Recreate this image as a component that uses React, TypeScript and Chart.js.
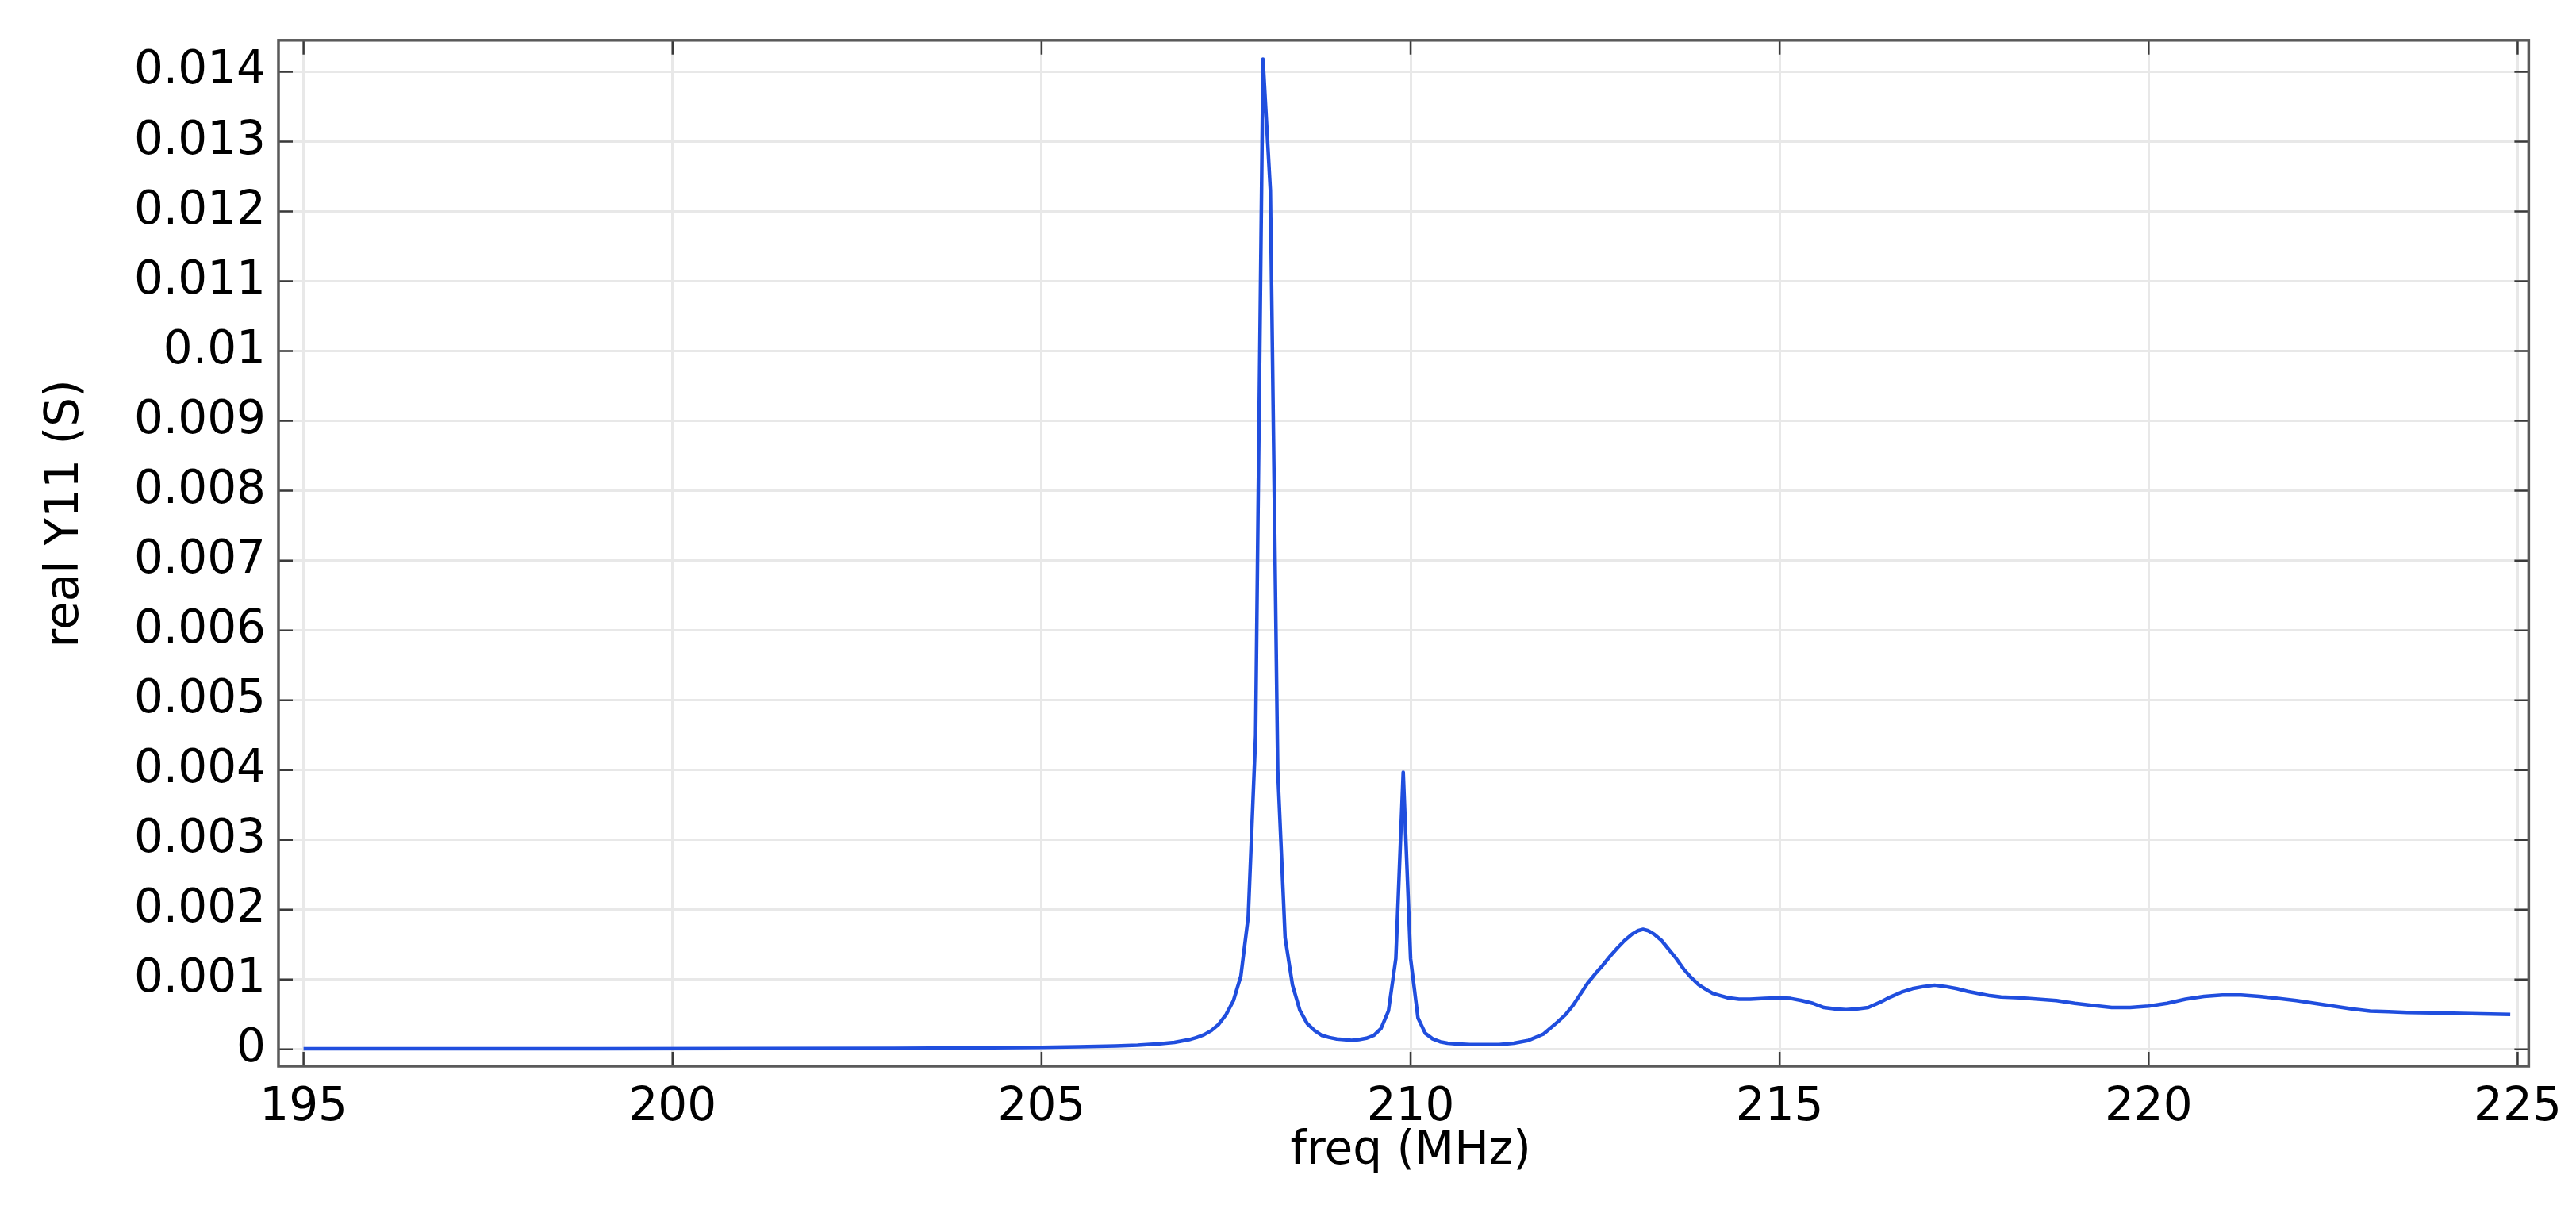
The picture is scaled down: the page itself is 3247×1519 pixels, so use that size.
import { useEffect, useRef } from "react"
import { Chart, registerables } from "chart.js"

Chart.register(...registerables)

// frequency sweep (MHz) and real part of Y11 (S)
const freq = [
  195, 197, 199, 201, 203, 204, 205, 205.5, 206, 206.3, 206.6, 206.8,
  207.0, 207.1, 207.2, 207.3, 207.4, 207.5, 207.6, 207.7, 207.8, 207.9,
  208.0, 208.1, 208.2, 208.3, 208.4, 208.5, 208.6, 208.7, 208.8, 208.9,
  209.0, 209.1, 209.2, 209.3, 209.4, 209.5, 209.6, 209.7, 209.8, 209.9,
  210.0, 210.1, 210.2, 210.3, 210.4, 210.5, 210.6, 210.8, 211.0, 211.2,
  211.4, 211.6, 211.8, 212.0, 212.1, 212.2, 212.3, 212.4, 212.5, 212.6,
  212.7, 212.8, 212.9, 213.0, 213.08, 213.15, 213.22, 213.3, 213.4, 213.5,
  213.6, 213.7, 213.8, 213.9, 214.0, 214.1, 214.2, 214.3, 214.45, 214.6,
  214.8, 215.0, 215.15, 215.3, 215.45, 215.6, 215.75, 215.9, 216.05, 216.2,
  216.35, 216.5, 216.65, 216.8, 216.95, 217.1, 217.25, 217.4, 217.55, 217.7,
  217.85, 218.0, 218.25, 218.5, 218.75, 219.0, 219.25, 219.5, 219.75, 220.0,
  220.25, 220.5, 220.75, 221.0, 221.25, 221.5, 221.75, 222.0, 222.25, 222.5,
  222.75, 223.0, 223.25, 223.5, 224.0, 224.5, 224.9,
]

const realY11 = [
  0.00001, 0.00001, 0.00001, 0.000012, 0.000016, 0.00002, 0.00003, 0.000037, 0.00005, 0.00006, 0.00008, 0.0001,
  0.00014, 0.00017, 0.00021, 0.00027, 0.00036, 0.0005, 0.0007, 0.00105, 0.0019, 0.0045,
  0.01418, 0.0123, 0.004, 0.0016, 0.00092, 0.00056, 0.00037, 0.00027, 0.0002, 0.00017,
  0.00015, 0.00014, 0.00013, 0.00014, 0.00016, 0.0002, 0.0003, 0.00055, 0.0013, 0.00397,
  0.0013, 0.00045, 0.00023, 0.00015, 0.00011, 0.00009, 0.00008, 0.00007, 0.00007, 0.00007,
  0.00009, 0.00013, 0.00022, 0.0004, 0.0005, 0.00063, 0.00079, 0.00095, 0.00108, 0.0012,
  0.00133, 0.00145, 0.00156, 0.00165, 0.0017, 0.00172, 0.0017, 0.00165, 0.00156, 0.00143,
  0.0013, 0.00115, 0.00103, 0.00093, 0.00086, 0.0008, 0.00077, 0.00074, 0.00072, 0.00072,
  0.00073, 0.00074, 0.00073, 0.0007, 0.00066, 0.0006, 0.00058, 0.00057, 0.00058, 0.0006,
  0.00067, 0.00075, 0.00082, 0.00087, 0.0009, 0.00092, 0.0009, 0.00087, 0.00083, 0.0008,
  0.00077, 0.00075, 0.00074, 0.00072, 0.0007, 0.00066, 0.00063, 0.0006, 0.0006, 0.00062,
  0.00066, 0.00072, 0.00076, 0.00078, 0.00078, 0.00076, 0.00073, 0.0007, 0.00066, 0.00062,
  0.00058, 0.00055, 0.00054, 0.00053, 0.00052, 0.00051, 0.0005,
]

const xTicks = [195, 200, 205, 210, 215, 220, 225]
const yTicks = [
  0, 0.001, 0.002, 0.003, 0.004, 0.005, 0.006, 0.007, 0.008, 0.009, 0.01,
  0.011, 0.012, 0.013, 0.014,
]

const FONT = "'DejaVu Sans', 'Noto Sans', sans-serif"
const TICK_LEN = 18

// box around the plot, inward ticks on all four sides, axis titles
const framePlugin = {
  id: "frame",
  afterDraw(chart: any) {
    const { ctx, chartArea: a, scales } = chart
    const xs = scales.x
    const ys = scales.y
    ctx.save()

    ctx.strokeStyle = "#3a3a3a"
    ctx.lineWidth = 2.5
    ctx.beginPath()
    xTicks.forEach((v) => {
      const px = xs.getPixelForValue(v)
      ctx.moveTo(px, a.top)
      ctx.lineTo(px, a.top + TICK_LEN)
      ctx.moveTo(px, a.bottom)
      ctx.lineTo(px, a.bottom - TICK_LEN)
    })
    yTicks.forEach((v) => {
      const py = ys.getPixelForValue(v)
      ctx.moveTo(a.left, py)
      ctx.lineTo(a.left + TICK_LEN, py)
      ctx.moveTo(a.right, py)
      ctx.lineTo(a.right - TICK_LEN, py)
    })
    ctx.stroke()

    ctx.strokeStyle = "#5a5a5a"
    ctx.lineWidth = 3.5
    ctx.strokeRect(a.left, a.top, a.right - a.left, a.bottom - a.top)

    ctx.fillStyle = "#000"
    ctx.font = `58px ${FONT}`
    ctx.textAlign = "center"
    ctx.textBaseline = "alphabetic"
    ctx.fillText("freq (MHz)", (a.left + a.right) / 2 + 9, a.bottom + 123)

    ctx.translate(a.left - 268, (a.top + a.bottom) / 2 - 50)
    ctx.rotate(-Math.PI / 2)
    ctx.textBaseline = "middle"
    ctx.fillText("real Y11 (S)", 0, 0)
    ctx.restore()
  },
}

export default function App() {
  const canvasRef = useRef<HTMLCanvasElement>(null)
  const chartRef = useRef<Chart | null>(null)

  useEffect(() => {
    if (!canvasRef.current) return
    if (chartRef.current) chartRef.current.destroy()
    const ctx = canvasRef.current.getContext("2d")
    if (!ctx) return

    chartRef.current = new Chart(ctx, {
      type: "line",
      data: {
        datasets: [
          {
            label: "real Y11 (S)",
            data: freq.map((f, i) => ({ x: f, y: realY11[i] })),
            borderColor: "rgb(32, 78, 222)",
            borderWidth: 4.5,
            borderJoinStyle: "round",
            pointRadius: 0,
            tension: 0,
            fill: false,
          },
        ],
      },
      options: {
        animation: false,
        responsive: true,
        maintainAspectRatio: false,
        layout: { padding: { top: 42, right: 44, left: 0, bottom: 0 } },
        plugins: {
          legend: { display: false },
          tooltip: { enabled: false },
        },
        scales: {
          x: {
            type: "linear",
            min: 194.66,
            max: 225.15,
            afterBuildTicks: (scale: any) => {
              scale.ticks = xTicks.map((v) => ({ value: v }))
            },
            afterFit: (scale: any) => {
              scale.height = 175
            },
            grid: { color: "#e8e8e8", lineWidth: 3, drawTicks: false },
            border: { display: false },
            ticks: {
              color: "#000",
              padding: 18,
              maxRotation: 0,
              font: { family: FONT, size: 58 },
              callback: (v: any) => String(v),
            },
          },
          y: {
            type: "linear",
            min: -0.00024,
            max: 0.01445,
            afterBuildTicks: (scale: any) => {
              scale.ticks = yTicks.map((v) => ({ value: v }))
            },
            afterFit: (scale: any) => {
              scale.width = 351
            },
            grid: { color: "#e8e8e8", lineWidth: 3, drawTicks: false },
            border: { display: false },
            ticks: {
              color: "#000",
              padding: 16,
              font: { family: FONT, size: 58 },
              callback: (v: any) => String(+Number(v).toFixed(6)),
            },
          },
        },
      },
      plugins: [framePlugin],
    })

    return () => {
      if (chartRef.current) {
        chartRef.current.destroy()
        chartRef.current = null
      }
    }
  }, [])

  return (
    <div style={{ position: "fixed", left: 0, top: 0, width: 3247, height: 1519, background: "#fff" }}>
      <canvas ref={canvasRef} />
    </div>
  )
}
